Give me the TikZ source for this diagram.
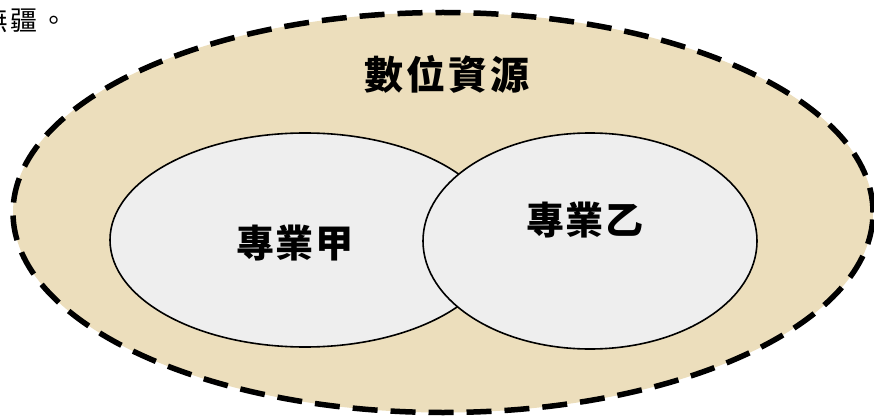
\documentclass[tikz,border=0pt]{standalone}
\usepackage{fontspec}
\usetikzlibrary{shapes.geometric}
\newfontfamily\cjkhead[LetterSpace=7]{Noto Sans CJK TC}
\newfontfamily\cjklabel[LetterSpace=4]{Noto Sans CJK TC}
\newfontfamily\cjkpage[LetterSpace=10]{Noto Sans CJK TC}
\definecolor{sand}{RGB}{236,222,188}
\definecolor{paper}{RGB}{238,238,238}

\begin{document}
\begin{tikzpicture}[x=1pt,y=1pt,
  ringnode/.style={ellipse,draw,line width=5.5pt,dash pattern=on 25pt off 13pt,fill=sand,inner sep=0pt,minimum width=860pt,minimum height=400pt},
  fieldnode/.style={ellipse,draw,line width=1.6pt,fill=paper,inner sep=0pt},
  titletext/.style={font=\cjkhead\bfseries\fontsize{39}{42}\selectfont,inner sep=0pt},
  labeltext/.style={font=\cjklabel\bfseries\fontsize{38}{40}\selectfont,inner sep=0pt},
  pagetext/.style={font=\cjkpage\fontsize{27}{30}\selectfont,inner sep=0pt}]
  \clip (0,0) rectangle (874,418);
  \node[pagetext,anchor=west] (pageline) at (-19,398) {無疆。};

  \node[ringnode] (resource) at (443,205.5) {};
  \node[fieldnode,minimum width=390pt,minimum height=214pt] (fieldA) at (305,178) {};
  \node[fieldnode,minimum width=334pt,minimum height=216pt] (fieldB) at (590,177) {};

  \node[titletext] (title) at (447,344) {數位資源};
  \node[labeltext] (labelA) at (295,175) {專業甲};
  \node[labeltext] (labelB) at (585,198) {專業乙};
\end{tikzpicture}
\end{document}
